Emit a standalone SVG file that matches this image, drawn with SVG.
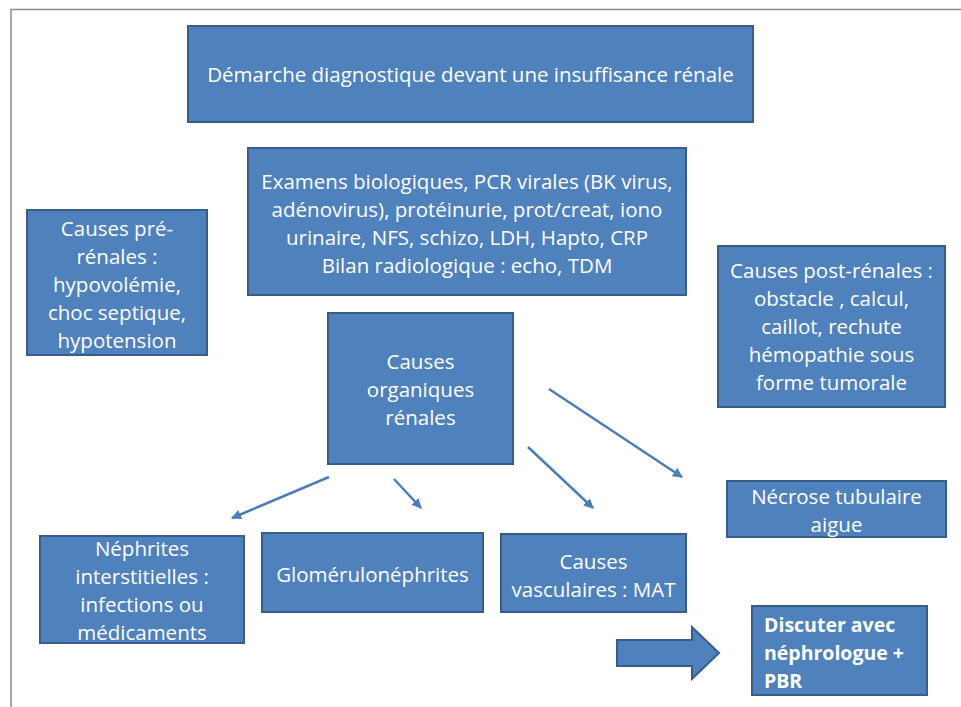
<svg xmlns="http://www.w3.org/2000/svg" width="961" height="707" viewBox="0 0 961 707">
<defs>
<style>
.box{fill:#4F81BD;stroke:#385D8A;stroke-width:2}
.t{font-family:"Open Sans","Liberation Sans",Arial,sans-serif;font-size:20.5px;fill:#fff;text-anchor:middle}
.b{font-family:"Open Sans","Liberation Sans",Arial,sans-serif;font-size:19.5px;fill:#fff;font-weight:bold}
.c{stroke:#4A7EBB;stroke-width:2.5;fill:none;marker-end:url(#ah)}
</style>
<marker id="ah" viewBox="0 0 10 10" refX="9" refY="5" markerWidth="4" markerHeight="4" orient="auto" markerUnits="strokeWidth">
<path d="M0,0 L10,5 L0,10 z" fill="#4A7EBB"/>
</marker>
</defs>
<rect width="961" height="707" fill="#fff"/>
<path d="M11,707 V9.5 H961" fill="none" stroke="#8c8c8c" stroke-width="1.5"/>
<g id="title">
<rect class="box" x="188" y="26" width="565" height="96"/>
<text class="t" x="470.5" y="82">Démarche diagnostique devant une insuffisance rénale</text>
</g>
<g id="examens">
<rect class="box" x="248" y="148" width="438" height="147"/>
<text class="t" x="467" y="189">Examens biologiques, PCR virales (BK virus,</text>
<text class="t" x="467" y="217">adénovirus), protéinurie, prot/creat, iono</text>
<text class="t" x="467" y="245">urinaire, NFS, schizo, LDH, Hapto, CRP</text>
<text class="t" x="467" y="273">Bilan radiologique : echo, TDM</text>
</g>
<g id="prerenales">
<rect class="box" x="27" y="210" width="180" height="145"/>
<text class="t" x="117" y="236">Causes pré-</text>
<text class="t" x="117" y="264">rénales :</text>
<text class="t" x="117" y="292">hypovolémie,</text>
<text class="t" x="117" y="320">choc septique,</text>
<text class="t" x="117" y="348">hypotension</text>
</g>
<g id="postrenales">
<rect class="box" x="718" y="246" width="227" height="161"/>
<text class="t" x="831.5" y="278">Causes post-rénales :</text>
<text class="t" x="831.5" y="306">obstacle , calcul,</text>
<text class="t" x="831.5" y="334">caillot, rechute</text>
<text class="t" x="831.5" y="362">hémopathie sous</text>
<text class="t" x="831.5" y="390">forme tumorale</text>
</g>
<g id="organiques">
<rect class="box" x="328" y="313" width="185" height="151"/>
<text class="t" x="420.5" y="369">Causes</text>
<text class="t" x="420.5" y="397">organiques</text>
<text class="t" x="420.5" y="425">rénales</text>
</g>
<g id="necrose">
<rect class="box" x="727" y="481" width="219" height="56"/>
<text class="t" x="836.5" y="504">Nécrose tubulaire</text>
<text class="t" x="836.5" y="532">aigue</text>
</g>
<g id="nephrites">
<rect class="box" x="40" y="536" width="204" height="107"/>
<text class="t" x="142" y="556">Néphrites</text>
<text class="t" x="142" y="584">interstitielles :</text>
<text class="t" x="142" y="612">infections ou</text>
<text class="t" x="142" y="640">médicaments</text>
</g>
<g id="glomerulo">
<rect class="box" x="262" y="533" width="221" height="79"/>
<text class="t" x="372.5" y="582">Glomérulonéphrites</text>
</g>
<g id="vasculaires">
<rect class="box" x="501" y="534" width="185" height="78"/>
<text class="t" x="593.5" y="569">Causes</text>
<text class="t" x="593.5" y="597">vasculaires : MAT</text>
</g>
<g id="discuter">
<rect class="box" x="752" y="606" width="175" height="89"/>
<text class="b" x="764" y="632">Discuter avec</text>
<text class="b" x="764" y="660">néphrologue +</text>
<text class="b" x="764" y="688">PBR</text>
</g>
<g id="connectors">
<line class="c" x1="329" y1="477" x2="232" y2="518"/>
<line class="c" x1="394" y1="479" x2="421" y2="508"/>
<line class="c" x1="528" y1="447" x2="593" y2="508"/>
<line class="c" x1="549" y1="389" x2="682" y2="477"/>
<path d="M617,640 H692 V627 L719,653 L692,679 V666 H617 Z" fill="#4F81BD" stroke="#385D8A" stroke-width="2"/>
</g>
</svg>
